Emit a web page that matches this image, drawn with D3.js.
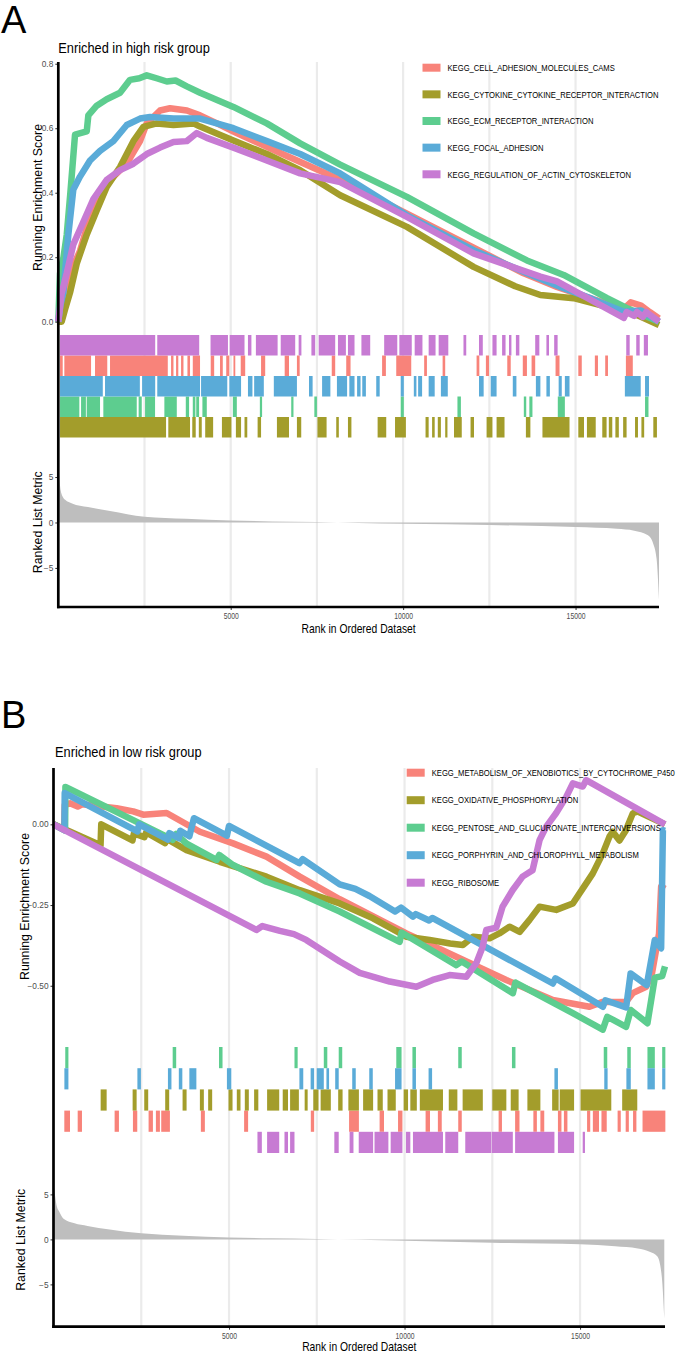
<!DOCTYPE html>
<html lang="en">
<head>
<meta charset="UTF-8">
<title>GSEA enrichment plots</title>
<script src="https://d3js.org/d3.v7.min.js"></script>
<style>
  body { margin: 0; background: white; }
  svg { display: block; font-family: "Liberation Sans", Arial, sans-serif; }
</style>
</head>
<body>
<svg width="685" height="1354"></svg>
<script>
// ranked gene list
const nGenes = 17420;
const rankTicks = [5000, 10000, 15000];
const gridRanks = [2500, 5000, 7500, 10000, 12500, 15000];

// ---------- panel A: enriched in high risk group ----------
const setsA = [
  "KEGG_CELL_ADHESION_MOLECULES_CAMS",
  "KEGG_CYTOKINE_CYTOKINE_RECEPTOR_INTERACTION",
  "KEGG_ECM_RECEPTOR_INTERACTION",
  "KEGG_FOCAL_ADHESION",
  "KEGG_REGULATION_OF_ACTIN_CYTOSKELETON"
];
const esTicksA = [0, 0.2, 0.4, 0.6, 0.8];

// running enrichment score, [rank, ES]
const esA_cams = [[0,0],[60,0.03],[98,0.06],[300,0.14],[630,0.22],[920,0.325],[1210,0.40],[1600,0.45],[1985,0.49],[2370,0.56],[2565,0.615],[2950,0.655],[3240,0.662],[3730,0.655],[4110,0.64],[4600,0.615],[5080,0.59],[6500,0.52],[8175,0.44],[10110,0.335],[12043,0.23],[13494,0.15],[14460,0.108],[15500,0.07],[16400,0.04],[16600,0.06],[16900,0.05],[17150,0.03],[17420,0.01]];
const esA_cyto = [[0,0],[98,0.0],[200,0.04],[340,0.09],[534,0.18],[824,0.27],[1114,0.345],[1404,0.418],[1790,0.48],[2177,0.56],[2467,0.604],[2854,0.615],[3340,0.61],[3920,0.615],[4112,0.605],[5078,0.562],[6047,0.52],[7014,0.47],[8175,0.392],[10110,0.294],[12043,0.17],[13250,0.11],[13980,0.083],[14945,0.073],[15915,0.046],[16800,0.02],[17420,-0.01]];
const esA_ecm = [[0,0],[50,0.15],[150,0.2],[245,0.27],[350,0.4],[485,0.58],[824,0.59],[871,0.64],[1114,0.67],[1404,0.69],[1790,0.71],[2080,0.75],[2350,0.755],[2565,0.764],[2850,0.755],[3146,0.745],[3400,0.748],[3726,0.73],[4112,0.71],[5078,0.666],[6047,0.615],[7014,0.553],[8175,0.487],[10110,0.387],[12043,0.274],[13590,0.19],[14655,0.145],[15915,0.073],[16495,0.042],[17420,0.0]];
const esA_focal = [[0,0],[60,0.05],[146,0.09],[291,0.27],[436,0.41],[630,0.45],[920,0.5],[1210,0.53],[1596,0.56],[1985,0.61],[2371,0.63],[2661,0.635],[3340,0.63],[4112,0.63],[5078,0.6],[6047,0.56],[7014,0.52],[8175,0.46],[10110,0.33],[12043,0.222],[13593,0.15],[14560,0.108],[15500,0.07],[16397,0.031],[16900,0.035],[17420,0.0]];
const esA_actin = [[0,0],[98,0.088],[244,0.15],[436,0.24],[727,0.31],[1017,0.38],[1404,0.44],[1790,0.47],[2177,0.49],[2565,0.52],[2951,0.54],[3340,0.557],[3726,0.56],[4016,0.585],[4306,0.57],[5078,0.54],[6047,0.5],[7014,0.46],[8175,0.433],[10110,0.325],[12043,0.212],[13979,0.14],[14462,0.125],[16400,0.012],[16480,0.03],[16700,0.018],[16780,0.03],[16950,0.015],[17050,0.03],[17420,0.0]];

// gene-set hits, [first rank, last rank] of each run of hits
const hitsA_cams = [[50,128],[175,950],[1065,1420],[1500,3175],[3270,3340],[3415,3480],[3560,3630],[3745,3820],[3900,4110],[4420,4520],[4690,4770],[4870,4960],[5080,5130],[5290,5420],[5880,6000],[6565,6690],[6920,7000],[7930,8030],[8350,8475],[9390,9500],[9800,10235],[10610,10690],[11145,11220],[12130,12210],[12400,12490],[13020,13120],[13470,13590],[13725,13830],[14420,14535],[15080,15180],[15560,15650],[15860,15940],[16460,16660]];
const hitsA_cyto = [[50,3125],[3190,3820],[3885,3985],[4075,4160],[4260,4490],[4745,5020],[5150,5300],[5400,5480],[5780,5880],[6340,6690],[6920,7045],[7515,7780],[8060,8135],[8400,8500],[9260,9510],[9765,10080],[10650,10740],[10840,10915],[11005,11095],[11220,11285],[11475,11700],[11955,12055],[12420,12590],[12710,12940],[13560,13690],[14040,14825],[15080,15245],[15330,15585],[15775,15900],[15965,16065],[16155,16255],[16380,16480],[16725,16810],[16910,16990],[17255,17360]];
const hitsA_ecm = [[50,610],[660,800],[824,1210],[1306,2275],[2330,2420],[2516,2806],[3076,3436],[3697,3793],[3900,3975],[4000,4083],[4179,4306],[5061,5177],[5845,5910],[6755,6820],[7425,7500],[9930,10020],[11575,11675],[13500,13570],[13660,13750],[14485,14690],[17015,17115]];
const hitsA_focal = [[50,1290],[1355,2365],[2430,2810],[2870,4110],[4140,4900],[4960,5300],[5500,5630],[5680,5960],[6250,6920],[7270,7375],[7650,7890],[8080,8375],[8440,8590],[8665,8765],[8815,8920],[9220,9320],[9930,10020],[10310,10385],[10435,10550],[10740,10915],[11095,11295],[12200,12335],[12540,12710],[13180,13285],[13850,13980],[14155,14255],[14510,14600],[14690,14825],[16430,16890],[17015,17130]];
const hitsA_actin = [[50,2810],[2870,4086],[4415,4920],[4970,5400],[5500,5600],[5730,6360],[6450,6870],[6970,7050],[7340,7450],[7550,8030],[8110,8340],[8400,8590],[8790,9045],[9450,9830],[9890,10250],[10335,10560],[10740,10940],[11030,11310],[11750,11830],[12200,12310],[12590,12710],[12870,12970],[13070,13140],[13270,13370],[13830,13950],[14155,14230],[14380,14480],[16470,16570],[16760,16860],[16980,17100]];

// ranked list metric, [rank, value]
const rankedA = [[0,8.8],[30,5.0],[90,3.2],[200,2.5],[400,2.1],[860,1.7],[1500,1.25],[2500,0.62],[3700,0.4],[5000,0.22],[6200,0.12],[7500,0.04],[8700,-0.05],[10000,-0.14],[12500,-0.28],[15000,-0.5],[16200,-0.7],[16700,-0.9],[17100,-1.4],[17250,-2.3],[17350,-4.0],[17420,-8.5]];
const rankedTicks = [-5, 0, 5];

// ---------- panel B: enriched in low risk group ----------
const setsB = [
  "KEGG_METABOLISM_OF_XENOBIOTICS_BY_CYTOCHROME_P450",
  "KEGG_OXIDATIVE_PHOSPHORYLATION",
  "KEGG_PENTOSE_AND_GLUCURONATE_INTERCONVERSIONS",
  "KEGG_PORPHYRIN_AND_CHLOROPHYLL_METABOLISM",
  "KEGG_RIBOSOME"
];
const esTicksB = [-0.5, -0.25, 0];

const esB_xeno = [[0,0],[300,-0.017],[320,0.06],[470,0.065],[689,0.055],[811,0.062],[1798,0.05],[2271,0.04],[2556,0.03],[3222,0.035],[4170,-0.023],[5117,-0.059],[6068,-0.1],[7015,-0.162],[8154,-0.232],[10052,-0.338],[11475,-0.41],[12898,-0.482],[14225,-0.544],[15269,-0.565],[15647,-0.55],[16313,-0.55],[16500,-0.523],[16882,-0.503],[17050,-0.461],[17250,-0.338],[17310,-0.193],[17420,-0.2]];
const esB_oxphos = [[0,0],[1340,-0.065],[1360,0.0],[2250,-0.05],[2290,-0.028],[2590,-0.04],[2640,-0.025],[3180,-0.058],[3230,-0.045],[3791,-0.08],[4738,-0.116],[6068,-0.162],[7015,-0.204],[8154,-0.245],[9102,-0.291],[10052,-0.348],[10715,-0.358],[11300,-0.369],[11663,-0.374],[11950,-0.348],[12423,-0.353],[12700,-0.338],[12992,-0.317],[13280,-0.333],[13561,-0.296],[13846,-0.255],[14321,-0.265],[14794,-0.245],[15175,-0.183],[15363,-0.152],[15647,-0.09],[15838,-0.038],[15930,-0.023],[16123,-0.05],[16300,-0.02],[16502,0.034],[16630,0.04],[17420,0.0]];
const esB_pentose = [[0,0],[330,-0.019],[340,0.116],[2271,0.013],[3222,-0.038],[3395,-0.048],[3495,-0.03],[3791,-0.06],[4645,-0.11],[4720,-0.095],[5117,-0.126],[6068,-0.178],[7015,-0.214],[8154,-0.27],[9861,-0.364],[9915,-0.335],[11475,-0.436],[11630,-0.425],[13086,-0.523],[13160,-0.49],[14794,-0.585],[15647,-0.636],[15775,-0.596],[16313,-0.627],[16445,-0.575],[16920,-0.616],[17130,-0.475],[17340,-0.47],[17420,-0.44]];
const esB_porph = [[0,0],[310,-0.018],[320,0.097],[2390,-0.022],[2440,0.0],[3260,-0.047],[3300,-0.027],[3570,-0.043],[3610,-0.02],[3870,-0.037],[4000,0.019],[4940,-0.035],[5000,-0.005],[7005,-0.12],[7100,-0.108],[8154,-0.186],[8600,-0.2],[9000,-0.222],[9730,-0.27],[9900,-0.258],[10240,-0.286],[10320,-0.278],[10700,-0.298],[10790,-0.29],[14225,-0.493],[14300,-0.477],[15650,-0.565],[15720,-0.545],[16313,-0.567],[16440,-0.462],[16900,-0.498],[17130,-0.358],[17310,-0.384],[17360,-0.018],[17420,-0.02]];
const esB_ribo = [[0,0],[5780,-0.327],[5950,-0.315],[6450,-0.33],[6850,-0.34],[7200,-0.358],[8154,-0.425],[8723,-0.46],[9577,-0.487],[10337,-0.503],[10800,-0.482],[11284,-0.467],[11760,-0.472],[12044,-0.43],[12224,-0.38],[12329,-0.327],[12613,-0.32],[12793,-0.255],[13077,-0.204],[13362,-0.162],[13647,-0.142],[13846,-0.049],[14037,-0.007],[14321,0.035],[14606,0.085],[14794,0.127],[15078,0.117],[15175,0.137],[17420,0.0]];

const hitsB_xeno = [[308,470],[689,811],[1741,1864],[2263,2386],[2709,2832],[2917,3031],[3069,3316],[4198,4312],[5430,5544],[7330,7425],[8420,8700],[9290,9415],[9815,9940],[10600,10725],[10950,11060],[11530,11630],[12680,12775],[13150,13275],[13670,13770],[13870,13980],[14370,14470],[14540,14640],[15200,15290],[15365,15540],[15610,15760],[16070,16160],[16300,16390],[16510,16605],[16780,17430]];
const hitsB_oxphos = [[1343,1514],[2254,2368],[2585,2698],[3182,3296],[3677,3791],[4170,4283],[4406,4520],[4986,5100],[5222,5327],[5450,5564],[5715,5835],[6085,6430],[6530,6680],[6740,6990],[7155,7240],[7400,7550],[7610,7900],[8110,8235],[8400,8700],[8820,9105],[9230,9380],[9515,9750],[9975,10100],[10165,10350],[10435,11095],[11260,11505],[11655,12230],[12500,12900],[13025,13250],[13500,13870],[14205,14390],[14420,14830],[15015,15890],[16200,16630]];
const hitsB_pentose = [[335,425],[3395,3495],[4715,4815],[6865,6955],[7700,7800],[8125,8225],[9765,9915],[10225,10325],[11530,11630],[13060,13160],[15675,15775],[16345,16445],[16920,17130],[17340,17430]];
const hitsB_porph = [[310,425],[2390,2490],[3260,3360],[3570,3670],[3870,4070],[4940,5065],[7005,7115],[7325,7425],[7500,7700],[7775,7850],[8025,8125],[8510,8610],[8995,9095],[9730,9915],[10225,10325],[10685,10785],[14270,14370],[15690,15785],[16320,16445],[16920,17130],[17340,17430]];
const hitsB_ribo = [[5810,5935],[6085,6430],[6580,6680],[6740,6865],[8000,8125],[8435,8545],[8695,9105],[9145,9540],[9605,9940],[10040,10165],[10240,11095],[11160,11530],[11730,12465],[12480,13085],[13150,14270],[14370,14830],[15075,15140]];

const rankedB = [[0,6.3],[40,5.0],[100,3.6],[162,3.1],[286,2.3],[600,1.8],[970,1.5],[1600,1.1],[2500,0.67],[3700,0.4],[5000,0.22],[6200,0.12],[7500,0.05],[8700,-0.05],[10000,-0.15],[12500,-0.37],[15000,-0.55],[16000,-0.75],[16645,-1.0],[17000,-1.4],[17205,-1.9],[17330,-4.2],[17400,-8.8]];

// colours, in gene-set order (ggplot hue palette as rendered)
const setColors = ["#F8837A", "#A39D2B", "#5DCD8F", "#5AABD8", "#C77BD3"];

const svg = d3.select("svg");

// the figure is horizontally compressed: narrow the text about its x position
function squeeze(sel, k) {
  sel.each(function () {
    const x0 = +d3.select(this).attr("x") || 0;
    d3.select(this).attr("transform", `translate(${x0 * (1 - k)},0) scale(${k},1)`);
  });
}

function drawPanel(p) {
  const g = svg.append("g");

  const x = d3.scaleLinear().domain([0, nGenes]).range([p.left, p.right]);
  const yES = d3.scaleLinear().domain(p.esDomain).range([p.esBottom, p.esTop]);
  const yRank = d3.scaleLinear().domain(p.rankDomain).range([p.bottom, p.rankTop]);
  const yHit = d3.scaleBand().domain(p.hitOrder).range([p.hitTop, p.rankTop]);

  // vertical grid lines through all three tracks
  g.append("g").selectAll("line").data(gridRanks).join("line")
    .attr("x1", d => x(d)).attr("x2", d => x(d))
    .attr("y1", p.esTop).attr("y2", p.bottom)
    .attr("stroke", "#EBEBEB").attr("stroke-width", 2.2);

  // ranked list metric
  const area = d3.area()
    .x(d => x(d[0]))
    .y0(yRank(0))
    .y1(d => yRank(d[1]))
    .curve(d3.curveMonotoneX);
  g.append("path").attr("d", area(p.ranked)).attr("fill", "#BEBEBE");

  // hit marks
  p.sets.forEach((name, i) => {
    g.append("g").selectAll("rect").data(p.hits[i]).join("rect")
      .attr("x", d => x(d[0]))
      .attr("width", d => Math.max(1.8, x(d[1]) - x(d[0])))
      .attr("y", yHit(name))
      .attr("height", yHit.bandwidth())
      .attr("fill", setColors[i]);
  });

  // running enrichment score lines
  const line = d3.line().x(d => x(d[0])).y(d => yES(d[1]));
  p.sets.forEach((name, i) => {
    g.append("path").attr("d", line(p.es[i]))
      .attr("fill", "none")
      .attr("stroke", setColors[i])
      .attr("stroke-width", 6.5)
      .attr("stroke-linejoin", "round");
  });

  // y axis ticks: ES and ranked metric
  const esAxis = g.append("g")
    .attr("transform", `translate(${p.left},0)`)
    .call(d3.axisLeft(yES).tickValues(p.esTicks).tickFormat(p.esFormat).tickSize(3).tickPadding(2));
  const rkAxis = g.append("g")
    .attr("transform", `translate(${p.left},0)`)
    .call(d3.axisLeft(yRank).tickValues(rankedTicks).tickFormat(d3.format("d")).tickSize(3).tickPadding(2));
  const xAxis = g.append("g")
    .attr("transform", `translate(0,${p.bottom})`)
    .call(d3.axisBottom(x).tickValues(rankTicks).tickFormat(d3.format("d")).tickSize(3).tickPadding(3));

  [esAxis, rkAxis, xAxis].forEach(a => {
    a.select(".domain").remove();
    a.selectAll(".tick line").attr("stroke", "#333").attr("stroke-width", 1);
    a.selectAll(".tick text").attr("fill", "#4D4D4D").style("font-size", "8.3px")
      .style("font-family", '"Liberation Sans", Arial, sans-serif');
  });
  squeeze(xAxis.selectAll(".tick text"), 0.82);

  // axis lines
  g.append("line")
    .attr("x1", p.left).attr("x2", p.left)
    .attr("y1", p.esTop).attr("y2", p.bottom + 1.3)
    .attr("stroke", "black").attr("stroke-width", 2.7);
  g.append("line")
    .attr("x1", p.left - 1.3).attr("x2", p.right)
    .attr("y1", p.bottom).attr("y2", p.bottom)
    .attr("stroke", "black").attr("stroke-width", 2.7);

  // titles
  g.append("text")
    .attr("x", 1).attr("y", p.letterY)
    .style("font-size", "38px")
    .text(p.letter);

  const title = g.append("text")
    .attr("x", p.titleX).attr("y", p.titleY)
    .style("font-size", "14px")
    .text(p.title);
  squeeze(title, 0.915);

  const xt = g.append("text")
    .attr("x", (p.left + p.right) / 2).attr("y", p.xTitleY)
    .attr("text-anchor", "middle")
    .style("font-size", "12.3px")
    .text("Rank in Ordered Dataset");
  squeeze(xt, 0.84);

  g.append("text")
    .attr("transform", `translate(${p.esLabelX},${(p.esTop + p.esBottom) / 2}) rotate(-90)`)
    .attr("text-anchor", "middle")
    .style("font-size", "12.3px")
    .text("Running Enrichment Score");

  g.append("text")
    .attr("transform", `translate(${p.rankLabelX},${(p.rankTop + p.bottom) / 2}) rotate(-90)`)
    .attr("text-anchor", "middle")
    .style("font-size", "12.3px")
    .text("Ranked List Metric");

  // legend
  const legend = g.append("g");
  p.sets.forEach((name, i) => {
    const ly = p.legendY + i * p.legendStep;
    legend.append("rect")
      .attr("x", p.legendX).attr("y", ly - 4)
      .attr("width", 18).attr("height", 8)
      .attr("fill", setColors[i]);
    const t = legend.append("text")
      .attr("x", p.legendX + 25).attr("y", ly + 3.3)
      .style("font-size", "9px")
      .text(name);
    squeeze(t, 0.85);
  });
}

drawPanel({
  letter: "A", letterY: 33,
  title: "Enriched in high risk group", titleX: 58.3, titleY: 53.3,
  sets: setsA,
  es: [esA_cams, esA_cyto, esA_ecm, esA_focal, esA_actin],
  hits: [hitsA_cams, hitsA_cyto, hitsA_ecm, hitsA_focal, hitsA_actin],
  hitOrder: [setsA[4], setsA[0], setsA[3], setsA[2], setsA[1]],
  ranked: rankedA,
  esTicks: esTicksA, esFormat: d3.format(".1f"),
  left: 58.3, right: 659,
  esTop: 62, esBottom: 333, esDomain: [-0.035, 0.8054],
  hitTop: 335, rankTop: 437.5,
  bottom: 607, rankDomain: [-9.3, 9.35],
  xTitleY: 633.5,
  esLabelX: 41.5, rankLabelX: 41.5,
  legendX: 422.5, legendY: 67.7, legendStep: 26.65
});

drawPanel({
  letter: "B", letterY: 728,
  title: "Enriched in low risk group", titleX: 55, titleY: 756.7,
  sets: setsB,
  es: [esB_xeno, esB_oxphos, esB_pentose, esB_porph, esB_ribo],
  hits: [hitsB_xeno, hitsB_oxphos, hitsB_pentose, hitsB_porph, hitsB_ribo],
  hitOrder: [setsB[2], setsB[3], setsB[1], setsB[0], setsB[4]],
  ranked: rankedB,
  esTicks: esTicksB, esFormat: d3.format(".2f"),
  left: 53.5, right: 665,
  esTop: 768, esBottom: 1045, esDomain: [-0.6835, 0.1745],
  hitTop: 1047, rankTop: 1153,
  bottom: 1326.7, rankDomain: [-9.7, 9.6],
  xTitleY: 1350.8,
  esLabelX: 28.5, rankLabelX: 25,
  legendX: 406.7, legendY: 772.7, legendStep: 27.5
});
</script>
</body>
</html>
